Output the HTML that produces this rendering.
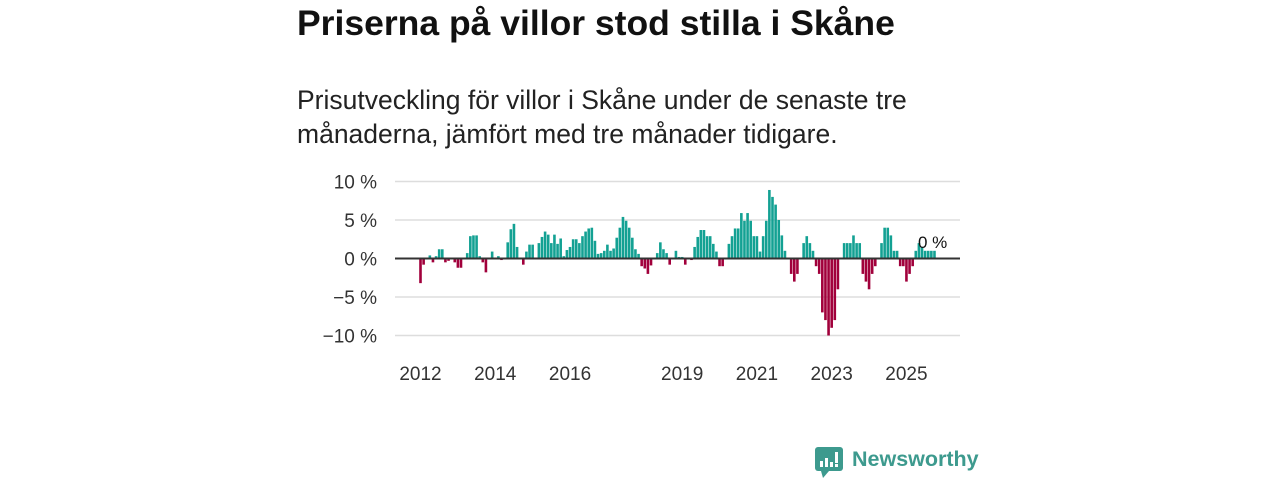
<!DOCTYPE html>
<html><head><meta charset="utf-8"><style>
body{margin:0;width:1280px;height:480px;background:#fff;font-family:"Liberation Sans","DejaVu Sans",sans-serif;overflow:hidden;position:relative}
h1{position:absolute;left:297px;top:3px;margin:0;font-size:35.5px;font-weight:bold;color:#111}
.sub{position:absolute;left:297px;top:83px;margin:0;font-size:26.5px;line-height:34px;color:#222;width:700px}
svg{position:absolute;left:0;top:0}
</style></head><body>
<h1>Priserna på villor stod stilla i Skåne</h1>
<p class="sub">Prisutveckling för villor i Skåne under de senaste tre<br>månaderna, jämfört med tre månader tidigare.</p>
<svg id="c" width="1280" height="480"></svg>
<script>
const startYear = 2012;
const values = [-3.2,-0.8,0.1,0.4,-0.5,0.3,1.2,1.2,-0.5,-0.3,0,-0.5,-1.2,-1.2,0,0.7,2.9,3.0,3.0,0.3,-0.5,-1.8,0,0.9,0,0.3,-0.2,0,2.1,3.8,4.5,1.5,0,-0.8,0.9,1.8,1.8,0,2.0,2.8,3.5,3.1,2.0,3.1,1.9,2.6,0.3,1.1,1.5,2.5,2.5,2.0,2.9,3.5,3.9,4.0,
2.3,0.6,0.7,1.0,1.8,1.0,1.3,2.7,4.0,5.4,4.9,4.0,2.7,1.2,0.6,-1.0,-1.3,-2.0,-0.9,0,0.7,2.1,1.2,0.7,-0.8,0,1.0,0.2,0.2,-0.8,0,-0.2,1.5,2.8,3.7,3.7,2.9,2.9,1.9,0.9,-1.0,-1.0,0,1.9,2.9,3.9,3.9,5.9,4.9,5.9,4.9,2.9,2.9,0.9,2.9,4.9,8.9,8.0,7.0,5.0,3.0,1.0,
0,-2.0,-3.0,-2.0,0,2.0,2.9,2.0,1.0,-1.0,-2.0,-7.0,-8.0,-10.0,-9.0,-8.0,-4.0,0,2.0,2.0,2.0,3.0,2.0,2.0,-2.0,-3.0,-4.0,-2.0,-1.0,0,2.0,4.0,4.0,3.0,1.0,1.0,-1.0,-1.0,-3.0,-2.0,-1.0,1.0,2.0,1.5,1.0,1.0,1.0,1.0];
const yTicks = [10,5,0,-5,-10];
const yTickLabels = ["10 %","5 %","0 %","−5 %","−10 %"];
const xTicks = [2012,2014,2016,2019,2021,2023,2025];
const lastLabel = "0 %";

const svg = document.getElementById('c');
const NS = 'http://www.w3.org/2000/svg';
const y = v => 258.5 - v*7.7;
const x = i => 420.5 + i*3.115;
const xYear = yr => x((yr-startYear)*12);
function mk(t,a){const e=document.createElementNS(NS,t);for(const k in a)e.setAttribute(k,a[k]);svg.appendChild(e);return e;}
yTicks.forEach((t,i)=>{
  if(t!==0){const g=mk('line',{x1:395,x2:960,y1:y(t),y2:y(t),stroke:'#ddd','stroke-width':1.5});
  
  }
  const l=mk('text',{x:377,y:y(t)+7,'text-anchor':'end','font-size':19,fill:'#333'});
  l.textContent=yTickLabels[i];
  
  
});
values.forEach((v,i)=>{
  const b=mk('rect',{x:x(i)-1.3,width:2.6,y:Math.min(y(v),y(0)),height:Math.abs(y(v)-y(0)),fill:v>=0?'#13a193':'#a1003b'});
  
  
});
const z=mk('line',{x1:395,x2:960,y1:y(0),y2:y(0),stroke:'#333','stroke-width':2});


xTicks.forEach(t=>{
  const l=mk('text',{x:xYear(t),y:380,'text-anchor':'middle','font-size':19,fill:'#333'});
  l.textContent=t;
  
  
});
const ll=mk('text',{x:918,y:248,'font-size':17,fill:'#111'});
ll.textContent=lastLabel;


</script>
<div style="position:absolute;left:815px;top:447px;display:flex;align-items:center">
  <svg width="30" height="32" style="position:static"><rect x="0" y="0" width="28" height="24" rx="3" fill="#3d9a8e"/><polygon points="6,24 14,24 8,31" fill="#3d9a8e"/><rect x="5" y="14" width="3" height="6" fill="#fff"/><rect x="10" y="11" width="3" height="9" fill="#fff"/><rect x="15" y="15" width="3" height="5" fill="#fff"/><rect x="20" y="5" width="3" height="11" fill="#fff"/><rect x="20" y="17" width="3" height="3" fill="#fff"/></svg>
  <span style="margin-left:7px;margin-top:-8px;font-size:21.5px;color:#3d9a8e;font-weight:bold">Newsworthy</span>
</div>
</body></html>
